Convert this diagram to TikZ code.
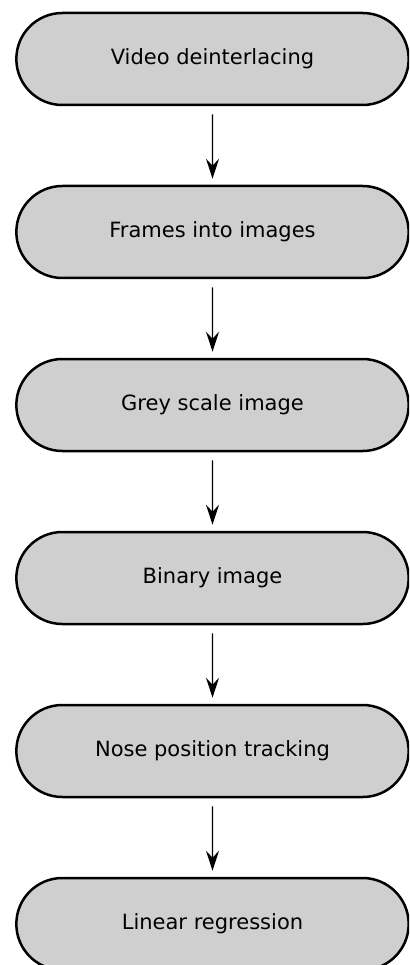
\documentclass[tikz,border=0pt]{standalone}
\usepackage{fontspec}
\setmainfont{DejaVu Sans}
\usetikzlibrary{positioning,shapes.misc,arrows.meta}

\definecolor{boxgrey}{RGB}{207,207,207}

\tikzset{
    stage/.style={rounded rectangle, draw, line width=2.5pt, fill=boxgrey,
        minimum width=399pt, minimum height=92pt,
        font=\fontsize{21}{25}\selectfont},
    flow/.style={-{Stealth[length=20pt,width=13pt,inset=7pt]}, line width=1.3pt,
        shorten <=8pt, shorten >=6pt}
}

\begin{document}
\begin{tikzpicture}[x=1pt,y=1pt,node distance=78.5pt]
    \useasboundingbox (0,0) rectangle (409,-965);
    \clip (0,0) rectangle (409,-965);

    % Processing chain, top to bottom
    \node [stage] (deint) at (212.5,-59) {Video deinterlacing};
    \node [stage, below=of deint] (frames) {Frames into images};
    \node [stage, below=of frames] (grey) {Grey scale image};
    \node [stage, below=of grey] (binary) {Binary image};
    \node [stage, below=of binary] (nose) {Nose position tracking};
    \node [stage, below=of nose] (regress) {Linear regression};

    % Arrows between the stages
    \foreach \a/\b in {deint/frames, frames/grey, grey/binary, binary/nose, nose/regress}
        \draw [flow] (\a) -- (\b);

\end{tikzpicture}
\end{document}
